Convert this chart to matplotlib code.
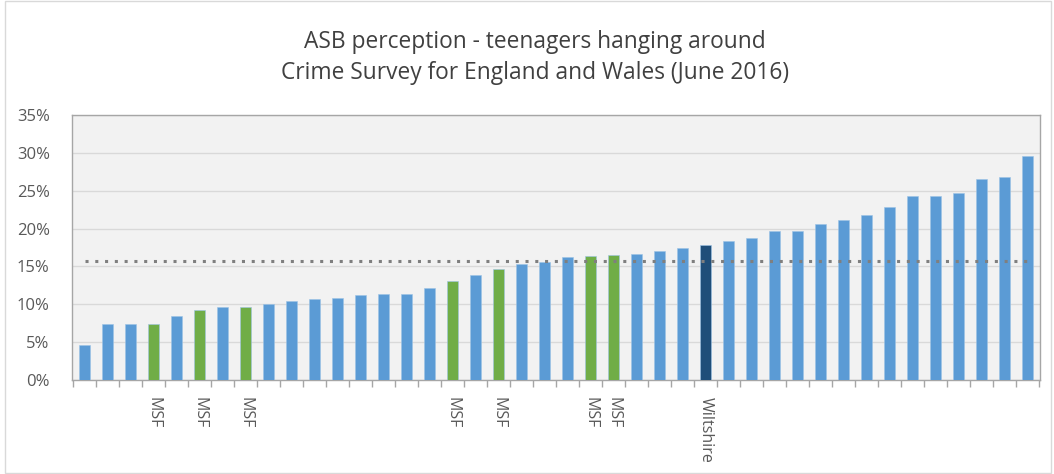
import matplotlib
matplotlib.use("Agg")
import matplotlib.pyplot as plt
from matplotlib.patches import Rectangle
import numpy as np

values = [4.6, 7.4, 7.4, 7.4, 8.5, 9.2, 9.7, 9.7, 10.1, 10.4, 10.7, 10.8, 11.2, 11.4,
          11.4, 12.1, 13.1, 13.9, 14.7, 15.3, 15.6, 16.2, 16.4, 16.5, 16.7, 17.1, 17.5, 17.8,
          18.3, 18.8, 19.7, 19.7, 20.6, 21.1, 21.8, 22.9, 24.3, 24.3, 24.7, 26.5, 26.8, 29.6]
labels = [""] * len(values)
for i in [3, 5, 7, 16, 18, 22, 23]:
    labels[i] = "MSF"
labels[27] = "Wiltshire"
average = 15.7

BLUE = "#5B9BD5"
GREEN = "#70AD47"
DARK = "#1F4E79"
colors = [GREEN if l == "MSF" else DARK if l == "Wiltshire" else BLUE for l in labels]

plt.rcParams['font.family'] = ['Open Sans', 'DejaVu Sans']

fig = plt.figure(figsize=(10.54, 4.74), dpi=100)
ax = fig.add_axes([72/1054, 1 - 380/474, (1040-72)/1054, (380-115)/474])

x = np.arange(len(values))
ax.bar(x, values, width=0.46, color=colors, edgecolor="#9DC3E6", linewidth=0.4, zorder=3)
ax.plot([x[0], x[-1]], [average, average], color="#7F7F7F", linestyle=(0, (1, 2.2)),
        linewidth=2.2, zorder=4)

ax.set_xlim(-0.55, len(values) - 0.45)
ax.set_ylim(0, 35)
ax.set_facecolor("#F2F2F2")
ax.set_yticks(np.arange(0, 36, 5))
ax.set_yticklabels([f"{v}%" for v in range(0, 36, 5)], fontsize=12, color="#595959")
ax.yaxis.grid(True, color="#D9D9D9", linewidth=1, zorder=0)
ax.tick_params(axis="y", length=0, pad=16)

ax.set_xticks(x)
ax.set_xticklabels(labels, rotation=270, fontsize=11.5, color="#595959", va="top", ha="center")
ax.tick_params(axis="x", length=0, pad=12)
ax.set_xticks(np.arange(-0.5, len(values) + 0.5, 1), minor=True)
ax.tick_params(axis="x", which="minor", length=5, color="#A6A6A6", width=1)

for s in ax.spines.values():
    s.set_color("#A6A6A6")
    s.set_linewidth(1)

fig.text(535/1054, 1 - 42/474, "ASB perception - teenagers hanging around", ha="center",
         va="center", fontsize=16.4, color="#404040")
fig.text(535/1054, 1 - 73/474, "Crime Survey for England and Wales (June 2016)", ha="center",
         va="center", fontsize=16.4, color="#404040")

fig.patches.append(Rectangle((5/1054, 0.003), 1 - 8/1054, 0.994, transform=fig.transFigure,
                             fill=False, edgecolor="#D9D9D9", linewidth=1))

fig.savefig("out.png", dpi=100)
